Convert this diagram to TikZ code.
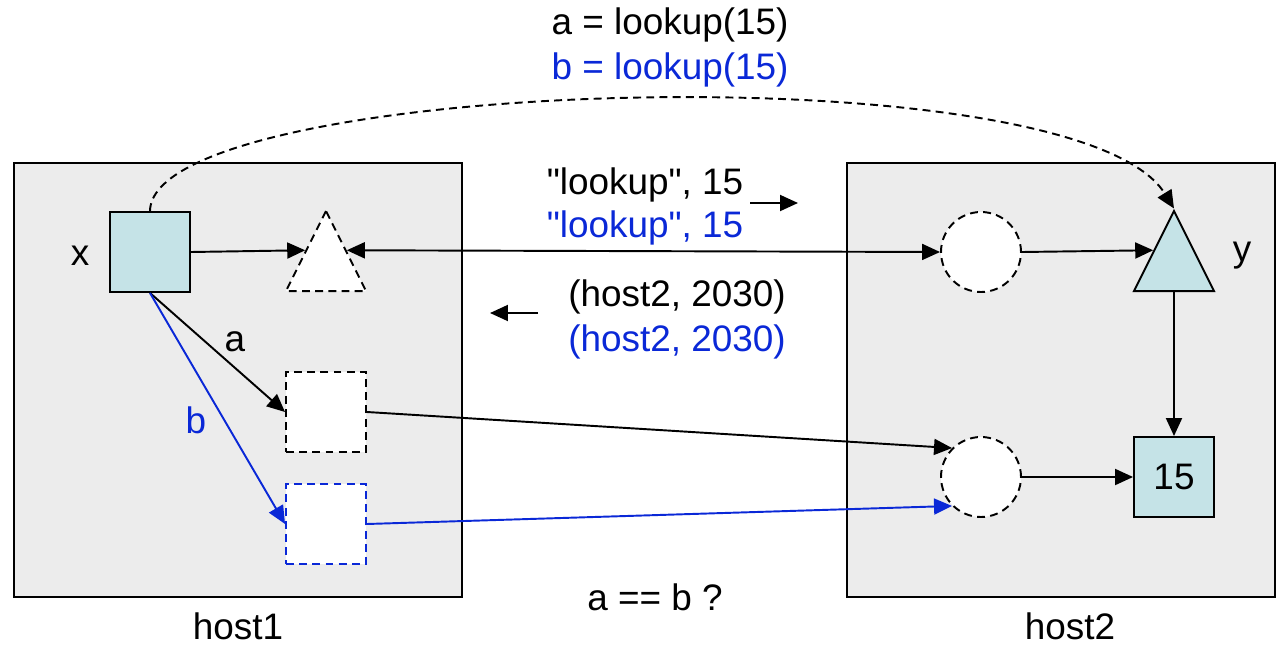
\documentclass[tikz,border=0pt]{standalone}
\usepackage{fontspec}
\setmainfont{Liberation Sans}[Ligatures=TeXOff]
\usetikzlibrary{shapes.geometric,arrows.meta}

\definecolor{hostgray}{HTML}{ECECEC}
\definecolor{objcyan}{HTML}{C5E3E7}
\definecolor{refblue}{HTML}{0A28D7}

\tikzset{
  hostbox/.style={draw,fill=hostgray,inner sep=0pt},
  objbox/.style={draw,fill=objcyan,minimum size=1.6cm,inner sep=0pt},
  stubbox/.style={draw,dsh,fill=white,minimum size=1.6cm,inner sep=0pt},
  tri/.style={draw,isosceles triangle,isosceles triangle stretches,shape border rotate=90,
    minimum width=1.6cm,minimum height=1.6cm,inner sep=0pt,anchor=lower side},
  ring/.style={draw,dsh,circle,fill=white,minimum size=1.6cm,inner sep=0pt},
  dsh/.style={dash pattern=on 4.5pt off 3pt}
}

\begin{document}
\begin{tikzpicture}[x=0.02cm,y=-0.02cm,line width=1.1pt,
    >={Triangle[length=0.36cm,width=0.32cm]},
    font=\fontsize{21pt}{25pt}\selectfont]
  \useasboundingbox (0,0) rectangle (1276,646);

  \node[hostbox,minimum width=8.96cm,minimum height=8.68cm] (host1) at (238,380) {};
  \node[hostbox,minimum width=8.56cm,minimum height=8.68cm] (host2) at (1061,380) {};
  \node[inner sep=0pt] (h1lab) at (238,626) {host1};
  \node[inner sep=0pt] (h2lab) at (1070,626) {host2};

  \node[objbox] (xsq) at (150,252) {};
  \node (xlab) at (80,256) {x};
  \node[tri,dsh,fill=white] (htri) at (326,292) {};
  \node[stubbox] (asq) at (326,412) {};
  \node[stubbox,draw=refblue] (bsq) at (326,524) {};

  \node[ring] (c1) at (981,252) {};
  \node[ring] (c2) at (981,477) {};
  \node[tri,fill=objcyan] (ytri) at (1174,292) {};
  \node (ylab) at (1242,256) {y};
  \node[objbox] (sq15) at (1174,477) {15};

  \draw[->] (xsq.east) -- (htri.left side);
  \draw[<->] (htri.right side) -- (c1.west);
  \draw[->] (c1.east) -- (ytri.left side);
  \draw[->] (ytri.lower side) -- (sq15.north);
  \draw[->] (c2.east) -- (sq15.west);

  \draw[->] (xsq.south) -- (asq.west);
  \node (alab) at (235,342) {a};
  \draw[->,refblue] (xsq.south) -- (bsq.west);
  \node[refblue] (blab) at (196,420) {b};
  \draw[->] (asq.east) -- (c2.north west);
  \draw[->,refblue] (bsq.east) -- (c2.south west);

  \draw[->,dsh] (xsq.north) .. controls (152,78) and (1075,48) .. (ytri.apex);

  \node (call1) at (670,25) {a = lookup(15)};
  \node[refblue] (call2) at (670,70) {b = lookup(15)};
  \node (req1) at (645,185) {"lookup", 15};
  \node[refblue] (req2) at (645,228) {"lookup", 15};
  \coordinate (reqa) at (750,203);
  \coordinate (reqb) at (798,203);
  \draw[->] (reqa) -- (reqb);
  \node (rep1) at (677,297) {(host2, 2030)};
  \node[refblue] (rep2) at (677,342) {(host2, 2030)};
  \coordinate (repa) at (538,313);
  \coordinate (repb) at (490,313);
  \draw[->] (repa) -- (repb);
  \node (qry) at (655,597) {a == b ?};
\end{tikzpicture}
\end{document}
